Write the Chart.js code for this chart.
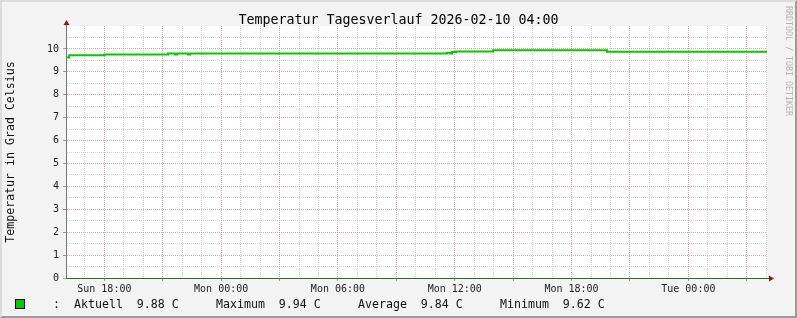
<!DOCTYPE html>
<html lang="de">
<head>
<meta charset="UTF-8">
<title>Temperatur Tagesverlauf</title>
<script src="https://cdn.jsdelivr.net/npm/chart.js"></script>
<style>
    body { margin: 0; background: #f3f3f3; }
    #wrap { position: relative; width: 797px; height: 318px; background: #f3f3f3; overflow: hidden; }
    #wrap canvas { position: absolute; left: 0; top: 0; }
    #frame {
        position: absolute; left: 0; top: 0; width: 797px; height: 318px; box-sizing: border-box;
        border: 2px solid; border-color: #dcdcdc #9c9c9c #9c9c9c #dcdcdc; pointer-events: none;
    }
    #title {
        position: absolute; left: 0; top: 12px; width: 797px; text-align: center;
        font: 13.3px 'DejaVu Sans Mono', monospace; line-height: 16px; color: #000;
    }
    #swatch { position: absolute; left: 15px; top: 299px; width: 8px; height: 8px; background: #00cc00; border: 1px solid #000; }
    .leg {
        position: absolute; top: 297px; white-space: pre;
        font: 11.6px 'DejaVu Sans Mono', monospace; line-height: 14px; color: #111;
    }
    #mark {
        position: absolute; left: 784px; top: 6px; writing-mode: vertical-rl;
        font: 8.3px 'DejaVu Sans Mono', monospace; line-height: 10px; color: #b4b4b4;
    }
</style>
</head>
<body>
<div id="wrap">
    <canvas id="chart" width="797" height="318"></canvas>
    <div id="title">Temperatur Tagesverlauf 2026-02-10 04:00</div>
    <div id="swatch"></div>
    <div class="leg" style="left:53px">:</div>
    <div class="leg" style="left:74px">Aktuell  9.88 C</div>
    <div class="leg" style="left:216px">Maximum  9.94 C</div>
    <div class="leg" style="left:358px">Average  9.84 C</div>
    <div class="leg" style="left:500px">Minimum  9.62 C</div>
    <div id="mark">RRDTOOL / TOBI OETIKER</div>
    <div id="frame"></div>
</div>
<script>
    // hours relative to Mon 00:00, value holds from that time on
    const hours = [-7.97, -7.81, -6, -2.73, -2.37, -2.27, -1.70, -1.60, 11.60, 11.76, 11.86, 12.07, 13.97, 19.82, 28.04];
    const temps = [9.62, 9.72, 9.76, 9.80, 9.76, 9.80, 9.76, 9.80, 9.83, 9.80, 9.86, 9.89, 9.94, 9.88, 9.88];

    const xLabelHours = [-6, 0, 6, 12, 18, 24];
    const xLabels = ['Sun 18:00', 'Mon 00:00', 'Mon 06:00', 'Mon 12:00', 'Mon 18:00', 'Tue 00:00'];
    const xGridHours = [];
    for (let h = -7; h <= 28; h++) xGridHours.push(h);

    const yLabels = ['0', '1', '2', '3', '4', '5', '6', '7', '8', '9', '10'];

    const minorGrid = 'rgba(200,200,200,0.8)';
    const majorGrid = 'rgba(240,120,120,0.65)';
    const arrowColor = '#8b1a1a';

    Chart.defaults.font.family = "'DejaVu Sans Mono', monospace";
    Chart.defaults.color = '#222';

    const rrdDecor = {
        id: 'rrdDecor',
        beforeDraw(chart) {
            const a = chart.chartArea, c = chart.ctx;
            c.save();
            c.fillStyle = '#ffffff';
            c.fillRect(a.left, a.top, a.right - a.left, a.bottom - a.top);
            c.restore();
        },
        afterDraw(chart) {
            const a = chart.chartArea, c = chart.ctx;
            c.save();
            c.strokeStyle = '#777';
            c.lineWidth = 1;
            c.beginPath();
            c.moveTo(a.left + 0.5, a.top);
            c.lineTo(a.left + 0.5, a.top - 3);
            c.stroke();
            c.strokeStyle = '#2a6e2a';
            c.beginPath();
            c.moveTo(a.right, a.bottom + 0.5);
            c.lineTo(a.right + 3, a.bottom + 0.5);
            c.stroke();
            c.fillStyle = arrowColor;
            c.beginPath();
            c.moveTo(a.left + 0.5, a.top - 6);
            c.lineTo(a.left - 2.5, a.top - 1);
            c.lineTo(a.left + 3.5, a.top - 1);
            c.closePath();
            c.fill();
            c.beginPath();
            c.moveTo(a.right + 7, a.bottom + 0.5);
            c.lineTo(a.right + 2, a.bottom - 2.5);
            c.lineTo(a.right + 2, a.bottom + 3.5);
            c.closePath();
            c.fill();
            c.restore();
        }
    };

    new Chart(document.getElementById('chart'), {
        type: 'line',
        data: {
            datasets: [{
                data: hours.map((h, i) => ({ x: h, y: temps[i] })),
                borderColor: '#00cc00',
                borderWidth: 2,
                stepped: true,
                pointRadius: 0,
                fill: false
            }]
        },
        options: {
            responsive: false,
            animation: false,
            layout: { padding: { left: 0, top: 26, right: 30, bottom: 0 } },
            plugins: { legend: { display: false }, tooltip: { enabled: false } },
            scales: {
                x: {
                    type: 'linear',
                    min: -7.97,
                    max: 28.04,
                    afterBuildTicks: s => { s.ticks = xGridHours.map(v => ({ value: v })); },
                    afterFit: s => { s.height = 40; },
                    grid: {
                        color: ctx => (ctx.tick && ctx.tick.value % 3 === 0) ? majorGrid : minorGrid,
                        tickColor: ctx => (ctx.tick && ctx.tick.value % 3 === 0) ? '#999' : 'rgba(0,0,0,0)',
                        tickLength: 3
                    },
                    border: { color: '#2a6e2a', width: 1, dash: [1, 1] },
                    ticks: {
                        autoSkip: false,
                        maxRotation: 0,
                        padding: 2,
                        font: { size: 10 },
                        color: '#222',
                        callback: v => {
                            const i = xLabelHours.indexOf(v);
                            return i >= 0 ? xLabels[i] : '';
                        }
                    }
                },
                y: {
                    min: 0,
                    max: 11,
                    afterBuildTicks: s => {
                        const t = [];
                        for (let v = 0; v <= 10.5; v += 0.5) t.push({ value: v });
                        s.ticks = t;
                    },
                    afterFit: s => { s.width = 66; },
                    grid: {
                        color: ctx => (ctx.tick && ctx.tick.value % 1 === 0) ? majorGrid : minorGrid,
                        tickColor: ctx => (ctx.tick && ctx.tick.value % 1 === 0) ? '#999' : 'rgba(0,0,0,0)',
                        tickLength: 3
                    },
                    border: { color: '#777', width: 1, dash: [1, 1] },
                    ticks: {
                        autoSkip: false,
                        padding: 4,
                        font: { size: 10 },
                        color: '#222',
                        callback: v => (v % 1 === 0 && yLabels[v] !== undefined) ? yLabels[v] : ''
                    },
                    title: {
                        display: true,
                        text: 'Temperatur in Grad Celsius',
                        font: { size: 11.6 },
                        color: '#111',
                        padding: { top: 4, bottom: 0 }
                    }
                }
            }
        },
        plugins: [rrdDecor]
    });
</script>
</body>
</html>
